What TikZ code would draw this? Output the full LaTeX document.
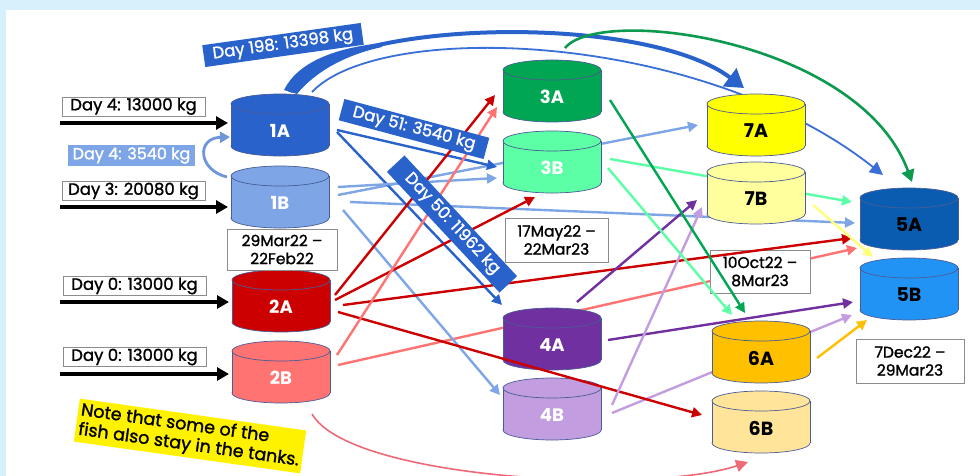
\documentclass[tikz,border=0pt]{standalone}
\usepackage{fontspec}
\setmainfont{Poppins}
\newfontfamily\medfont{Poppins}[FakeBold=1.3]
\usetikzlibrary{arrows.meta,calc}
\definecolor{bgblue}{HTML}{D6F1FC}
\definecolor{c1A}{HTML}{2A62CC}
\definecolor{c1B}{HTML}{7EA6E6}
\definecolor{c2A}{HTML}{CC0000}
\definecolor{c2B}{HTML}{FF7373}
\definecolor{c3A}{HTML}{00A651}
\definecolor{c3B}{HTML}{5CFFA6}
\definecolor{c4A}{HTML}{7030A0}
\definecolor{c4B}{HTML}{C29EE0}
\definecolor{c5A}{HTML}{0A5CB0}
\definecolor{c5B}{HTML}{2193F5}
\definecolor{c6A}{HTML}{FFC000}
\definecolor{c6B}{HTML}{FFE49A}
\definecolor{c7A}{HTML}{FFFF00}
\definecolor{c7B}{HTML}{FFFF9E}
\definecolor{tankline}{HTML}{4A5C96}
\definecolor{boxline}{HTML}{8C8C8C}
\definecolor{arcblue}{HTML}{3A6FD8}
\definecolor{darkgreen}{HTML}{0E9A4E}
\definecolor{pinkarc}{HTML}{EE6A78}
\definecolor{ylw}{HTML}{FFFF7A}
\definecolor{loopblue}{HTML}{6F96D8}
\pgfdeclarelayer{bg}
\pgfdeclarelayer{back}
\pgfsetlayers{bg,back,main}
\tikzset{
  tanknode/.style={minimum width=98pt,minimum height=62pt,inner sep=0pt},
  whitetxt/.style={text=white,font=\bfseries\fontsize{18}{20}\selectfont},
  blacktxt/.style={text=black,font=\bfseries\fontsize{19}{21}\selectfont},
  daylab/.style={draw=boxline,fill=white,line width=0.7pt,inner sep=0pt,minimum width=143pt,minimum height=19pt,font=\medfont\fontsize{16.5}{18}\selectfont},
  bluelab/.style={fill=c1A,text=white,inner sep=0pt,minimum height=22pt,font=\medfont\fontsize{16.5}{18}\selectfont},
  datelab/.style={draw=boxline,fill=white,line width=0.7pt,inner sep=0pt,align=center,font=\medfont\fontsize{15.5}{18}\selectfont},
  notebox/.style={fill=yellow,inner sep=3pt,align=left,font=\medfont\fontsize{17.5}{19.5}\selectfont},
  arr/.style={line width=2.4pt,-{Triangle[length=10pt,width=10pt]}},
  inarr/.style={line width=3.5pt,black,-{Triangle[length=12pt,width=13pt]}}
}
\newcommand{\drawtank}[6]{%
  \filldraw[fill=#4,draw=tankline,line width=0.7pt] (#2,#3+21) ellipse [x radius=49pt,y radius=10pt];
  \fill[#4] (#2-49,#3-21) rectangle (#2+49,#3+21);
  \draw[tankline,line width=0.7pt] (#2-49,#3-21) -- (#2-49,#3+21) (#2+49,#3-21) -- (#2+49,#3+21);
  \filldraw[fill=#4,draw=tankline,line width=0.7pt] (#2,#3-21) ellipse [x radius=49pt,y radius=10pt];
  \node[#5] (#1txt) at (#2,#3+6) {#6};
}
\begin{document}
\begin{tikzpicture}[x=1pt,y=-1pt]
\useasboundingbox (0,0) rectangle (980,476);
\begin{pgfonlayer}{bg}
  \fill[bgblue] (0,0) rectangle (980,476);
  \fill[white] (6,10) rectangle (980,476);
\end{pgfonlayer}
% tank anchor nodes
\node[tanknode] (t1A) at (280,125) {};
\node[tanknode] (t1B) at (280,197) {};
\node[tanknode] (t2A) at (281,301) {};
\node[tanknode] (t2B) at (281,372) {};
\node[tanknode] (t3A) at (552,91) {};
\node[tanknode] (t3B) at (552,162) {};
\node[tanknode] (t4A) at (552,339) {};
\node[tanknode] (t4B) at (552,409) {};
\node[tanknode] (t7A) at (756,125) {};
\node[tanknode] (t7B) at (756,193) {};
\node[tanknode] (t5A) at (909,219) {};
\node[tanknode] (t5B) at (909,289) {};
\node[tanknode] (t6A) at (761,352) {};
\node[tanknode] (t6B) at (761,422) {};
% connectors passing behind tanks
\begin{pgfonlayer}{back}
  \draw[arcblue,line width=1.8pt,-{Triangle[length=13pt,width=13pt]}] ($(t1A)+(32,-33)$) .. controls (380,20) and (700,30) .. ($(t5A)+(-26,-44)$);
  \draw[arr,c1B] ($(t1B)+(58,-2)$) -- ($(t7A)+(-58,0)$);
  \draw[arr,c1B] ($(t1B)+(70,5)$) -- ($(t5A)+(-54,4)$);
  \draw[arr,c2B] ($(t2B)+(57,-7)$) -- ($(t5B)+(-52,-41)$);
  \draw[arr,c4B] ($(t4B)+(60,4)$) -- ($(t5B)+(-57,26)$);
  \draw[arr,c3B] ($(t3B)+(58,-3)$) -- ($(t5A)+(-57,-17)$);
\end{pgfonlayer}
% tanks
\drawtank{t1A}{280}{125}{c1A}{whitetxt}{1A}
\drawtank{t1B}{280}{197}{c1B}{whitetxt}{1B}
\drawtank{t2A}{281}{301}{c2A}{whitetxt}{2A}
\drawtank{t2B}{281}{372}{c2B}{whitetxt}{2B}
\drawtank{t3A}{552}{91}{c3A}{whitetxt}{3A}
\drawtank{t3B}{552}{162}{c3B}{whitetxt}{3B}
\drawtank{t4A}{552}{339}{c4A}{whitetxt}{4A}
\drawtank{t4B}{552}{409}{c4B}{whitetxt}{4B}
\drawtank{t7A}{756}{125}{c7A}{blacktxt}{7A}
\drawtank{t7B}{756}{193}{c7B}{blacktxt}{7B}
\drawtank{t5A}{909}{219}{c5A}{blacktxt}{5A}
\drawtank{t5B}{909}{289}{c5B}{blacktxt}{5B}
\drawtank{t6A}{761}{352}{c6A}{blacktxt}{6A}
\drawtank{t6B}{761}{422}{c6B}{blacktxt}{6B}
% date boxes
\node[datelab,minimum width=110pt,minimum height=41pt] (d1) at (282,249.5) {29Mar22 –\\22Feb22};
\node[datelab,minimum width=103pt,minimum height=44pt] (d2) at (556.5,240) {17May22 –\\22Mar23};
\node[datelab,minimum width=100pt,minimum height=43pt] (d3) at (760,271.5) {10Oct22 –\\8Mar23};
\node[datelab,minimum width=108pt,minimum height=44pt] (d4) at (910,361) {7Dec22 –\\29Mar23};
% inputs
\coordinate (s1A) at (60,123);
\coordinate (s1B) at (60,207);
\coordinate (s2A) at (60,302);
\coordinate (s2B) at (60,374);
\draw[inarr] (s1A) -- ($(t1A)+(-52,-2)$);
\draw[inarr] (s1B) -- ($(t1B)+(-52,10)$);
\draw[inarr] (s2A) -- ($(t2A)+(-52,1)$);
\draw[inarr] (s2B) -- ($(t2B)+(-52,2)$);
\node[daylab] (l1) at (133.5,106.5) {Day 4: 13000 kg};
\node[daylab] (l2) at (133.5,191) {Day 3: 20080 kg};
\node[daylab] (l3) at (134.5,286) {Day 0: 13000 kg};
\node[daylab] (l4) at (134.5,357) {Day 0: 13000 kg};
% 1B -> 1A loop
\draw[loopblue,line width=2.8pt,-{Triangle[length=10pt,width=11pt]}] ($(t1B)+(-53,-20)$) .. controls (198,170) and (196,138) .. ($(t1A)+(-50,12)$);
\node[fill=c1B,text=white,inner sep=0pt,minimum width=127pt,minimum height=21pt,font=\medfont\fontsize{16}{18}\selectfont] (l5) at (131.5,155.5) {Day 4: 3540 kg};
% big arcs
\draw[c1A,line width=4pt,-{Triangle[length=18pt,width=22pt]}] ($(t1A)+(10,-33)$) .. controls (320,20) and (640,10) .. ($(t7A)+(-12,-37)$);
\fill[c1A] (284,90) .. controls (298,62) and (335,48) .. (382,43) -- (382,47) .. controls (345,55) and (315,72) .. (297,94) -- cycle;
\draw[darkgreen,line width=2.6pt,-{Triangle[length=12pt,width=13pt]}] ($(t3A)+(13,-43)$) .. controls (600,5) and (860,40) .. ($(t5A)+(3,-37)$);
\draw[pinkarc,line width=1.6pt,-{Triangle[length=12pt,width=12pt]}] ($(t2B)+(31,42)$) .. controls (350,480) and (650,495) .. ($(t6B)+(-13,40)$);
% 1A
\draw[arr,c1A] ($(t1A)+(57,5)$) -- ($(t3B)+(-55,5)$);
\draw[arr,c1A] ($(t1A)+(57,7)$) -- ($(t4A)+(-50,-34)$);
% 1B
\draw[arr,c1B] ($(t1B)+(58,-10)$) -- ($(t3B)+(-55,16)$);
\draw[arr,c1B] ($(t1B)+(63,13)$) -- ($(t4B)+(-52,-14)$);
% 2A
\draw[arr,c2A] ($(t2A)+(54,-6)$) -- ($(t3A)+(-57,4)$);
\draw[arr,c2A] ($(t2A)+(54,-1)$) -- ($(t3B)+(-17,35)$);
\draw[arr,c2A] ($(t2A)+(62,4)$) -- ($(t5A)+(-57,19)$);
\draw[arr,c2A] ($(t2A)+(57,11)$) -- ($(t6B)+(-59,-7)$);
% 2B
\draw[arr,c2B] ($(t2B)+(56,-17)$) -- ($(t3A)+(-55,16)$);
% 4A, 4B
\draw[arr,c4A] ($(t4A)+(25,-37)$) -- ($(t7B)+(-59,7)$);
\draw[arr,c4A] ($(t4A)+(56,1)$) -- ($(t5B)+(-56,13)$);
\draw[arr,c4B] ($(t4B)+(60,-4)$) -- ($(t7B)+(-54,14)$);
% 3A, 3B
\draw[arr,c3A] ($(t3A)+(58,9)$) -- ($(t6A)+(-16,-39)$);
\draw[arr,c3B] ($(t3B)+(56,6)$) -- ($(t6A)+(-29,-37)$);
% into 5B
\draw[arr,ylw] ($(t7B)+(57,12)$) -- ($(t5B)+(-36,-32)$);
\draw[arr,c6A] ($(t6A)+(56,6)$) -- ($(t5B)+(-42,31)$);
% rotated labels
\node[bluelab,minimum width=160pt,rotate=8] (l198) at (283,45) {Day 198: 13398 kg};
\node[bluelab,minimum width=150pt,rotate=-15] (l51) at (414,129) {Day 51: 3540 kg};
\node[bluelab,minimum width=165pt,minimum height=24pt,rotate=-47] (l50) at (452,224) {Day 50: 11962 kg};
\node[notebox,rotate=-8] (note) at (190,436) {Note that some of the\\fish also stay in the tanks.};
\end{tikzpicture}
\end{document}
